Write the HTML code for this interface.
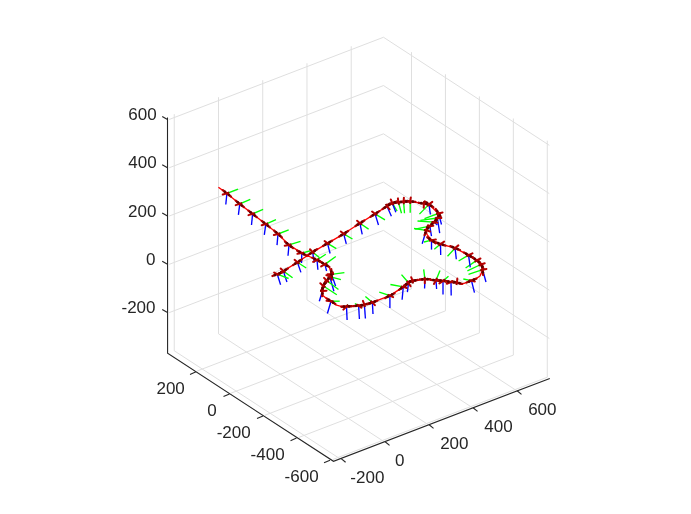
<!DOCTYPE html>
<html><head><meta charset="utf-8"><style>
html,body{margin:0;padding:0;background:#fff;width:691px;height:514px;overflow:hidden}
svg{position:absolute;left:0;top:0}
text{font-family:"Liberation Sans",sans-serif;font-size:17px;fill:#262626}
</style></head><body>
<svg width="691" height="514" viewBox="0 0 691 514">
<rect width="691" height="514" fill="#fff"/>
<g shape-rendering="auto">
<line x1="174.26" y1="350.77" x2="174.26" y2="114.16" stroke="#dfdfdf" stroke-width="1.0"/>
<line x1="218.50" y1="333.80" x2="218.50" y2="97.19" stroke="#dfdfdf" stroke-width="1.0"/>
<line x1="262.74" y1="316.83" x2="262.74" y2="80.21" stroke="#dfdfdf" stroke-width="1.0"/>
<line x1="306.98" y1="299.85" x2="306.98" y2="63.24" stroke="#dfdfdf" stroke-width="1.0"/>
<line x1="351.22" y1="282.88" x2="351.22" y2="46.27" stroke="#dfdfdf" stroke-width="1.0"/>
<line x1="169.10" y1="312.67" x2="383.49" y2="230.42" stroke="#dfdfdf" stroke-width="1.0"/>
<line x1="169.10" y1="264.38" x2="383.49" y2="182.13" stroke="#dfdfdf" stroke-width="1.0"/>
<line x1="169.10" y1="216.09" x2="383.49" y2="133.84" stroke="#dfdfdf" stroke-width="1.0"/>
<line x1="169.10" y1="167.81" x2="383.49" y2="85.55" stroke="#dfdfdf" stroke-width="1.0"/>
<line x1="169.10" y1="119.52" x2="383.49" y2="37.26" stroke="#dfdfdf" stroke-width="1.0"/>
<line x1="547.28" y1="377.23" x2="547.28" y2="140.61" stroke="#dfdfdf" stroke-width="1.0"/>
<line x1="513.34" y1="355.11" x2="513.34" y2="118.49" stroke="#dfdfdf" stroke-width="1.0"/>
<line x1="479.39" y1="332.99" x2="479.39" y2="96.37" stroke="#dfdfdf" stroke-width="1.0"/>
<line x1="445.44" y1="310.87" x2="445.44" y2="74.25" stroke="#dfdfdf" stroke-width="1.0"/>
<line x1="411.50" y1="288.75" x2="411.50" y2="52.13" stroke="#dfdfdf" stroke-width="1.0"/>
<line x1="549.32" y1="338.47" x2="383.49" y2="230.42" stroke="#dfdfdf" stroke-width="1.0"/>
<line x1="549.32" y1="290.19" x2="383.49" y2="182.13" stroke="#dfdfdf" stroke-width="1.0"/>
<line x1="549.32" y1="241.90" x2="383.49" y2="133.84" stroke="#dfdfdf" stroke-width="1.0"/>
<line x1="549.32" y1="193.61" x2="383.49" y2="85.55" stroke="#dfdfdf" stroke-width="1.0"/>
<line x1="549.32" y1="145.32" x2="383.49" y2="37.26" stroke="#dfdfdf" stroke-width="1.0"/>
<line x1="340.09" y1="458.83" x2="174.26" y2="350.77" stroke="#dfdfdf" stroke-width="1.0"/>
<line x1="384.33" y1="441.85" x2="218.50" y2="333.80" stroke="#dfdfdf" stroke-width="1.0"/>
<line x1="428.57" y1="424.88" x2="262.74" y2="316.83" stroke="#dfdfdf" stroke-width="1.0"/>
<line x1="472.81" y1="407.91" x2="306.98" y2="299.85" stroke="#dfdfdf" stroke-width="1.0"/>
<line x1="517.05" y1="390.93" x2="351.22" y2="282.88" stroke="#dfdfdf" stroke-width="1.0"/>
<line x1="332.90" y1="459.48" x2="547.28" y2="377.23" stroke="#dfdfdf" stroke-width="1.0"/>
<line x1="298.95" y1="437.36" x2="513.34" y2="355.11" stroke="#dfdfdf" stroke-width="1.0"/>
<line x1="265.00" y1="415.24" x2="479.39" y2="332.99" stroke="#dfdfdf" stroke-width="1.0"/>
<line x1="231.06" y1="393.12" x2="445.44" y2="310.87" stroke="#dfdfdf" stroke-width="1.0"/>
<line x1="197.11" y1="371.00" x2="411.50" y2="288.75" stroke="#dfdfdf" stroke-width="1.0"/>
</g>
<g>
<polyline points="218.40,187.20 226.90,193.40 239.80,203.90 252.60,213.90 265.80,224.10 278.00,234.00 289.00,244.90 301.80,253.10 317.00,260.00 324.90,264.40 329.30,267.00 331.50,274.30 329.80,276.70 326.90,280.80 323.40,286.00 322.50,291.00 322.80,295.40 327.50,299.30 331.00,301.20 336.50,305.20 341.00,306.40 346.50,306.50 358.60,305.60 364.40,304.60 372.40,302.40 389.90,295.60 403.30,286.90 408.50,282.80 412.60,281.00 424.90,279.30 436.00,280.30 443.00,280.90 451.00,282.00 457.00,282.60 461.30,284.40 471.50,280.60 476.50,278.40 480.00,276.00 481.50,272.50 482.60,269.70 480.80,264.50 476.70,260.40 468.50,255.10 455.10,248.10 440.50,244.00 431.50,240.20 426.90,234.40 426.30,230.30 429.80,226.20 433.90,222.10 437.40,218.00 438.50,213.40 429.00,204.40 423.80,203.60 410.20,201.40 403.60,201.80 398.40,202.30 392.30,203.10 387.00,206.20 375.00,213.90 359.90,223.30 343.70,233.80 327.50,243.40 312.60,252.10 297.40,262.30 283.40,271.10 277.30,274.20 273.80,274.60" fill="none" stroke="#ff0000" stroke-width="1.35" stroke-linejoin="round"/>
<line x1="226.90" y1="193.40" x2="238.00" y2="189.10" stroke="#00ff00" stroke-width="1.35"/>
<line x1="226.90" y1="193.40" x2="225.80" y2="204.50" stroke="#0000ff" stroke-width="1.35"/>
<line x1="239.80" y1="203.90" x2="250.30" y2="199.30" stroke="#00ff00" stroke-width="1.35"/>
<line x1="239.80" y1="203.90" x2="238.40" y2="214.80" stroke="#0000ff" stroke-width="1.35"/>
<line x1="252.60" y1="213.90" x2="263.10" y2="209.40" stroke="#00ff00" stroke-width="1.35"/>
<line x1="252.60" y1="213.90" x2="251.50" y2="225.00" stroke="#0000ff" stroke-width="1.35"/>
<line x1="265.80" y1="224.10" x2="276.00" y2="219.70" stroke="#00ff00" stroke-width="1.35"/>
<line x1="265.80" y1="224.10" x2="264.30" y2="234.90" stroke="#0000ff" stroke-width="1.35"/>
<line x1="278.00" y1="234.00" x2="288.70" y2="229.90" stroke="#00ff00" stroke-width="1.35"/>
<line x1="278.00" y1="234.00" x2="277.00" y2="245.10" stroke="#0000ff" stroke-width="1.35"/>
<line x1="289.00" y1="244.90" x2="300.50" y2="241.30" stroke="#00ff00" stroke-width="1.35"/>
<line x1="289.00" y1="244.90" x2="288.00" y2="255.70" stroke="#0000ff" stroke-width="1.35"/>
<line x1="301.80" y1="253.10" x2="311.40" y2="250.50" stroke="#00ff00" stroke-width="1.35"/>
<line x1="301.80" y1="253.10" x2="301.50" y2="263.00" stroke="#0000ff" stroke-width="1.35"/>
<line x1="317.00" y1="260.00" x2="325.80" y2="254.30" stroke="#00ff00" stroke-width="1.35"/>
<line x1="317.00" y1="260.00" x2="317.90" y2="269.70" stroke="#0000ff" stroke-width="1.35"/>
<line x1="324.90" y1="264.40" x2="335.80" y2="256.50" stroke="#00ff00" stroke-width="1.35"/>
<line x1="324.90" y1="264.40" x2="326.60" y2="271.00" stroke="#0000ff" stroke-width="1.35"/>
<line x1="331.50" y1="274.30" x2="344.40" y2="272.60" stroke="#00ff00" stroke-width="1.35"/>
<line x1="331.50" y1="274.30" x2="335.60" y2="286.00" stroke="#0000ff" stroke-width="1.35"/>
<line x1="329.80" y1="276.70" x2="340.90" y2="279.60" stroke="#00ff00" stroke-width="1.35"/>
<line x1="329.80" y1="276.70" x2="333.90" y2="291.30" stroke="#0000ff" stroke-width="1.35"/>
<line x1="326.90" y1="280.80" x2="338.50" y2="289.50" stroke="#00ff00" stroke-width="1.35"/>
<line x1="323.40" y1="286.00" x2="336.80" y2="294.80" stroke="#00ff00" stroke-width="1.35"/>
<line x1="322.50" y1="291.00" x2="319.30" y2="301.20" stroke="#0000ff" stroke-width="1.35"/>
<line x1="331.00" y1="301.20" x2="339.70" y2="301.20" stroke="#00ff00" stroke-width="1.35"/>
<line x1="331.00" y1="301.20" x2="327.40" y2="313.50" stroke="#0000ff" stroke-width="1.35"/>
<line x1="346.50" y1="306.50" x2="348.00" y2="304.70" stroke="#00ff00" stroke-width="1.35"/>
<line x1="346.50" y1="306.50" x2="347.10" y2="320.00" stroke="#0000ff" stroke-width="1.35"/>
<line x1="358.60" y1="305.60" x2="354.90" y2="303.50" stroke="#00ff00" stroke-width="1.35"/>
<line x1="358.60" y1="305.60" x2="359.40" y2="319.00" stroke="#0000ff" stroke-width="1.35"/>
<line x1="364.40" y1="304.60" x2="365.40" y2="318.50" stroke="#0000ff" stroke-width="1.35"/>
<line x1="372.40" y1="302.40" x2="365.40" y2="296.50" stroke="#00ff00" stroke-width="1.35"/>
<line x1="372.40" y1="302.40" x2="373.00" y2="314.00" stroke="#0000ff" stroke-width="1.35"/>
<line x1="389.90" y1="295.60" x2="379.30" y2="292.10" stroke="#00ff00" stroke-width="1.35"/>
<line x1="389.90" y1="295.60" x2="389.90" y2="307.90" stroke="#0000ff" stroke-width="1.35"/>
<line x1="403.30" y1="286.90" x2="390.40" y2="284.50" stroke="#00ff00" stroke-width="1.35"/>
<line x1="403.30" y1="286.90" x2="402.10" y2="299.70" stroke="#0000ff" stroke-width="1.35"/>
<line x1="408.50" y1="282.80" x2="401.50" y2="274.60" stroke="#00ff00" stroke-width="1.35"/>
<line x1="408.50" y1="282.80" x2="407.40" y2="292.10" stroke="#0000ff" stroke-width="1.35"/>
<line x1="424.90" y1="279.30" x2="423.70" y2="269.30" stroke="#00ff00" stroke-width="1.35"/>
<line x1="424.90" y1="279.30" x2="424.60" y2="288.60" stroke="#0000ff" stroke-width="1.35"/>
<line x1="436.00" y1="280.30" x2="440.00" y2="270.40" stroke="#00ff00" stroke-width="1.35"/>
<line x1="436.00" y1="280.30" x2="436.60" y2="289.00" stroke="#0000ff" stroke-width="1.35"/>
<line x1="443.00" y1="280.90" x2="448.50" y2="276.20" stroke="#00ff00" stroke-width="1.35"/>
<line x1="443.00" y1="280.90" x2="443.00" y2="294.40" stroke="#0000ff" stroke-width="1.35"/>
<line x1="451.00" y1="282.00" x2="453.40" y2="280.80" stroke="#00ff00" stroke-width="1.35"/>
<line x1="451.00" y1="282.00" x2="451.20" y2="295.60" stroke="#0000ff" stroke-width="1.35"/>
<line x1="471.50" y1="280.60" x2="463.30" y2="279.00" stroke="#00ff00" stroke-width="1.35"/>
<line x1="471.50" y1="280.60" x2="474.50" y2="292.70" stroke="#0000ff" stroke-width="1.35"/>
<line x1="482.60" y1="269.70" x2="468.50" y2="274.40" stroke="#00ff00" stroke-width="1.35"/>
<line x1="482.60" y1="269.70" x2="486.00" y2="282.00" stroke="#0000ff" stroke-width="1.35"/>
<line x1="480.80" y1="264.50" x2="467.40" y2="270.90" stroke="#00ff00" stroke-width="1.35"/>
<line x1="476.70" y1="260.40" x2="465.60" y2="268.00" stroke="#00ff00" stroke-width="1.35"/>
<line x1="468.50" y1="255.10" x2="458.60" y2="261.00" stroke="#00ff00" stroke-width="1.35"/>
<line x1="468.50" y1="255.10" x2="470.30" y2="267.40" stroke="#0000ff" stroke-width="1.35"/>
<line x1="455.10" y1="248.10" x2="447.50" y2="256.30" stroke="#00ff00" stroke-width="1.35"/>
<line x1="455.10" y1="248.10" x2="456.30" y2="259.20" stroke="#0000ff" stroke-width="1.35"/>
<line x1="440.50" y1="244.00" x2="434.30" y2="249.20" stroke="#00ff00" stroke-width="1.35"/>
<line x1="440.50" y1="244.00" x2="440.70" y2="255.00" stroke="#0000ff" stroke-width="1.35"/>
<line x1="431.50" y1="240.20" x2="424.00" y2="242.00" stroke="#00ff00" stroke-width="1.35"/>
<line x1="431.50" y1="240.20" x2="431.50" y2="249.60" stroke="#0000ff" stroke-width="1.35"/>
<line x1="426.30" y1="230.30" x2="414.00" y2="228.50" stroke="#00ff00" stroke-width="1.35"/>
<line x1="426.30" y1="230.30" x2="422.20" y2="243.70" stroke="#0000ff" stroke-width="1.35"/>
<line x1="429.80" y1="226.20" x2="415.20" y2="229.10" stroke="#00ff00" stroke-width="1.35"/>
<line x1="429.80" y1="226.20" x2="431.50" y2="236.10" stroke="#0000ff" stroke-width="1.35"/>
<line x1="433.90" y1="222.10" x2="417.50" y2="221.00" stroke="#00ff00" stroke-width="1.35"/>
<line x1="433.90" y1="222.10" x2="437.40" y2="225.00" stroke="#0000ff" stroke-width="1.35"/>
<line x1="437.40" y1="218.00" x2="420.40" y2="220.40" stroke="#00ff00" stroke-width="1.35"/>
<line x1="437.40" y1="218.00" x2="439.70" y2="233.20" stroke="#0000ff" stroke-width="1.35"/>
<line x1="438.50" y1="213.40" x2="424.50" y2="218.60" stroke="#00ff00" stroke-width="1.35"/>
<line x1="438.50" y1="213.40" x2="441.50" y2="224.50" stroke="#0000ff" stroke-width="1.35"/>
<line x1="429.00" y1="204.40" x2="419.40" y2="214.10" stroke="#00ff00" stroke-width="1.35"/>
<line x1="429.00" y1="204.40" x2="430.40" y2="214.50" stroke="#0000ff" stroke-width="1.35"/>
<line x1="410.20" y1="201.40" x2="410.20" y2="212.80" stroke="#00ff00" stroke-width="1.35"/>
<line x1="403.60" y1="201.80" x2="404.50" y2="213.20" stroke="#00ff00" stroke-width="1.35"/>
<line x1="398.40" y1="202.30" x2="401.50" y2="213.20" stroke="#00ff00" stroke-width="1.35"/>
<line x1="392.30" y1="203.10" x2="397.10" y2="211.00" stroke="#00ff00" stroke-width="1.35"/>
<line x1="392.30" y1="203.10" x2="395.80" y2="212.30" stroke="#0000ff" stroke-width="1.35"/>
<line x1="387.00" y1="206.20" x2="391.40" y2="216.30" stroke="#0000ff" stroke-width="1.35"/>
<line x1="375.00" y1="213.90" x2="385.00" y2="219.80" stroke="#00ff00" stroke-width="1.35"/>
<line x1="375.00" y1="213.90" x2="378.50" y2="225.00" stroke="#0000ff" stroke-width="1.35"/>
<line x1="359.90" y1="223.30" x2="368.60" y2="229.10" stroke="#00ff00" stroke-width="1.35"/>
<line x1="359.90" y1="223.30" x2="362.20" y2="234.40" stroke="#0000ff" stroke-width="1.35"/>
<line x1="343.70" y1="233.80" x2="352.50" y2="239.00" stroke="#00ff00" stroke-width="1.35"/>
<line x1="343.70" y1="233.80" x2="346.30" y2="243.80" stroke="#0000ff" stroke-width="1.35"/>
<line x1="327.50" y1="243.40" x2="336.30" y2="248.60" stroke="#00ff00" stroke-width="1.35"/>
<line x1="327.50" y1="243.40" x2="330.10" y2="253.50" stroke="#0000ff" stroke-width="1.35"/>
<line x1="312.60" y1="252.10" x2="319.60" y2="257.80" stroke="#00ff00" stroke-width="1.35"/>
<line x1="312.60" y1="252.10" x2="314.40" y2="262.70" stroke="#0000ff" stroke-width="1.35"/>
<line x1="297.40" y1="262.30" x2="306.20" y2="268.00" stroke="#00ff00" stroke-width="1.35"/>
<line x1="297.40" y1="262.30" x2="300.90" y2="272.40" stroke="#0000ff" stroke-width="1.35"/>
<line x1="283.40" y1="271.10" x2="292.60" y2="277.70" stroke="#00ff00" stroke-width="1.35"/>
<line x1="283.40" y1="271.10" x2="286.90" y2="282.00" stroke="#0000ff" stroke-width="1.35"/>
<line x1="277.30" y1="274.20" x2="288.60" y2="278.50" stroke="#00ff00" stroke-width="1.35"/>
<line x1="277.30" y1="274.20" x2="280.60" y2="284.70" stroke="#0000ff" stroke-width="1.35"/>
<line x1="226.90" y1="193.40" x2="222.70" y2="194.48" stroke="#b80000" stroke-width="2.0" stroke-linecap="round"/>
<line x1="226.90" y1="193.40" x2="229.23" y2="192.50" stroke="#900000" stroke-width="2.0"/>
<line x1="222.80" y1="190.20" x2="231.00" y2="196.60" stroke="#b00000" stroke-width="2.3" stroke-linecap="round"/>
<circle cx="224.85" cy="191.80" r="1.35" fill="#5a0000"/>
<circle cx="228.95" cy="195.00" r="1.35" fill="#5a0000"/>
<line x1="239.80" y1="203.90" x2="235.67" y2="205.13" stroke="#b80000" stroke-width="2.0" stroke-linecap="round"/>
<line x1="239.80" y1="203.90" x2="242.09" y2="202.90" stroke="#900000" stroke-width="2.0"/>
<line x1="235.73" y1="200.66" x2="243.87" y2="207.14" stroke="#b00000" stroke-width="2.3" stroke-linecap="round"/>
<circle cx="237.77" cy="202.28" r="1.35" fill="#5a0000"/>
<circle cx="241.83" cy="205.52" r="1.35" fill="#5a0000"/>
<line x1="252.60" y1="213.90" x2="248.45" y2="215.11" stroke="#b80000" stroke-width="2.0" stroke-linecap="round"/>
<line x1="252.60" y1="213.90" x2="254.90" y2="212.92" stroke="#900000" stroke-width="2.0"/>
<line x1="248.49" y1="210.71" x2="256.71" y2="217.09" stroke="#b00000" stroke-width="2.3" stroke-linecap="round"/>
<circle cx="250.55" cy="212.30" r="1.35" fill="#5a0000"/>
<circle cx="254.65" cy="215.50" r="1.35" fill="#5a0000"/>
<line x1="265.80" y1="224.10" x2="261.66" y2="225.31" stroke="#b80000" stroke-width="2.0" stroke-linecap="round"/>
<line x1="265.80" y1="224.10" x2="268.10" y2="223.11" stroke="#900000" stroke-width="2.0"/>
<line x1="261.72" y1="220.87" x2="269.88" y2="227.33" stroke="#b00000" stroke-width="2.3" stroke-linecap="round"/>
<circle cx="263.76" cy="222.49" r="1.35" fill="#5a0000"/>
<circle cx="267.84" cy="225.71" r="1.35" fill="#5a0000"/>
<line x1="278.00" y1="234.00" x2="273.82" y2="235.03" stroke="#b80000" stroke-width="2.0" stroke-linecap="round"/>
<line x1="278.00" y1="234.00" x2="280.33" y2="233.11" stroke="#900000" stroke-width="2.0"/>
<line x1="274.13" y1="230.53" x2="281.87" y2="237.47" stroke="#b00000" stroke-width="2.3" stroke-linecap="round"/>
<circle cx="276.06" cy="232.26" r="1.35" fill="#5a0000"/>
<circle cx="279.94" cy="235.74" r="1.35" fill="#5a0000"/>
<line x1="289.00" y1="244.90" x2="284.71" y2="245.72" stroke="#b80000" stroke-width="2.0" stroke-linecap="round"/>
<line x1="289.00" y1="244.90" x2="291.39" y2="244.15" stroke="#900000" stroke-width="2.0"/>
<line x1="284.94" y1="241.65" x2="293.06" y2="248.15" stroke="#b00000" stroke-width="2.3" stroke-linecap="round"/>
<circle cx="286.97" cy="243.27" r="1.35" fill="#5a0000"/>
<circle cx="291.03" cy="246.53" r="1.35" fill="#5a0000"/>
<line x1="301.80" y1="253.10" x2="297.41" y2="253.86" stroke="#b80000" stroke-width="2.0" stroke-linecap="round"/>
<line x1="301.80" y1="253.10" x2="304.21" y2="252.45" stroke="#900000" stroke-width="2.0"/>
<line x1="297.22" y1="250.63" x2="306.38" y2="255.57" stroke="#b00000" stroke-width="2.3" stroke-linecap="round"/>
<circle cx="299.51" cy="251.87" r="1.35" fill="#5a0000"/>
<circle cx="304.09" cy="254.33" r="1.35" fill="#5a0000"/>
<line x1="317.00" y1="260.00" x2="313.10" y2="261.91" stroke="#b80000" stroke-width="2.0" stroke-linecap="round"/>
<line x1="317.00" y1="260.00" x2="319.10" y2="258.64" stroke="#900000" stroke-width="2.0"/>
<line x1="312.33" y1="257.72" x2="321.67" y2="262.28" stroke="#b00000" stroke-width="2.3" stroke-linecap="round"/>
<circle cx="314.66" cy="258.86" r="1.35" fill="#5a0000"/>
<circle cx="319.34" cy="261.14" r="1.35" fill="#5a0000"/>
<line x1="324.90" y1="264.40" x2="321.14" y2="266.45" stroke="#b80000" stroke-width="2.0" stroke-linecap="round"/>
<line x1="324.90" y1="264.40" x2="326.92" y2="262.93" stroke="#900000" stroke-width="2.0"/>
<line x1="320.38" y1="261.83" x2="329.42" y2="266.97" stroke="#b00000" stroke-width="2.3" stroke-linecap="round"/>
<circle cx="322.64" cy="263.11" r="1.35" fill="#5a0000"/>
<circle cx="327.16" cy="265.69" r="1.35" fill="#5a0000"/>
<line x1="331.50" y1="274.30" x2="327.50" y2="274.22" stroke="#b80000" stroke-width="2.0" stroke-linecap="round"/>
<line x1="331.50" y1="274.30" x2="333.98" y2="273.97" stroke="#900000" stroke-width="2.0"/>
<line x1="331.23" y1="269.11" x2="331.77" y2="279.49" stroke="#b00000" stroke-width="2.3" stroke-linecap="round"/>
<circle cx="331.37" cy="271.70" r="1.35" fill="#5a0000"/>
<circle cx="331.63" cy="276.90" r="1.35" fill="#5a0000"/>
<line x1="329.80" y1="276.70" x2="326.28" y2="275.20" stroke="#b80000" stroke-width="2.0" stroke-linecap="round"/>
<line x1="329.80" y1="276.70" x2="332.22" y2="277.33" stroke="#900000" stroke-width="2.0"/>
<line x1="332.80" y1="272.46" x2="326.80" y2="280.94" stroke="#b00000" stroke-width="2.3" stroke-linecap="round"/>
<circle cx="331.30" cy="274.58" r="1.35" fill="#5a0000"/>
<circle cx="328.30" cy="278.82" r="1.35" fill="#5a0000"/>
<line x1="326.90" y1="280.80" x2="324.04" y2="277.91" stroke="#b80000" stroke-width="2.0" stroke-linecap="round"/>
<line x1="326.90" y1="280.80" x2="328.90" y2="282.30" stroke="#900000" stroke-width="2.0"/>
<line x1="329.85" y1="276.52" x2="323.95" y2="285.08" stroke="#b00000" stroke-width="2.3" stroke-linecap="round"/>
<circle cx="328.37" cy="278.66" r="1.35" fill="#5a0000"/>
<circle cx="325.43" cy="282.94" r="1.35" fill="#5a0000"/>
<line x1="323.40" y1="286.00" x2="320.29" y2="283.25" stroke="#b80000" stroke-width="2.0" stroke-linecap="round"/>
<line x1="323.40" y1="286.00" x2="325.49" y2="287.37" stroke="#900000" stroke-width="2.0"/>
<line x1="325.46" y1="281.23" x2="321.34" y2="290.77" stroke="#b00000" stroke-width="2.3" stroke-linecap="round"/>
<circle cx="324.43" cy="283.61" r="1.35" fill="#5a0000"/>
<circle cx="322.37" cy="288.39" r="1.35" fill="#5a0000"/>
<line x1="322.50" y1="291.00" x2="326.53" y2="290.66" stroke="#b80000" stroke-width="2.0" stroke-linecap="round"/>
<line x1="322.50" y1="291.00" x2="320.01" y2="290.84" stroke="#900000" stroke-width="2.0"/>
<line x1="322.83" y1="285.81" x2="322.17" y2="296.19" stroke="#b00000" stroke-width="2.3" stroke-linecap="round"/>
<circle cx="322.67" cy="288.41" r="1.35" fill="#5a0000"/>
<circle cx="322.33" cy="293.59" r="1.35" fill="#5a0000"/>
<line x1="331.00" y1="301.20" x2="326.50" y2="300.87" stroke="#b80000" stroke-width="2.0" stroke-linecap="round"/>
<line x1="331.00" y1="301.20" x2="333.50" y2="301.20" stroke="#900000" stroke-width="2.0"/>
<line x1="326.65" y1="298.35" x2="335.35" y2="304.05" stroke="#b00000" stroke-width="2.3" stroke-linecap="round"/>
<circle cx="328.83" cy="299.77" r="1.35" fill="#5a0000"/>
<circle cx="333.17" cy="302.63" r="1.35" fill="#5a0000"/>
<line x1="346.50" y1="306.50" x2="343.34" y2="309.60" stroke="#b80000" stroke-width="2.0" stroke-linecap="round"/>
<line x1="346.50" y1="306.50" x2="348.10" y2="304.58" stroke="#900000" stroke-width="2.0"/>
<line x1="341.31" y1="306.74" x2="351.69" y2="306.26" stroke="#b00000" stroke-width="2.3" stroke-linecap="round"/>
<circle cx="343.90" cy="306.62" r="1.35" fill="#5a0000"/>
<circle cx="349.10" cy="306.38" r="1.35" fill="#5a0000"/>
<line x1="358.60" y1="305.60" x2="361.48" y2="307.64" stroke="#b80000" stroke-width="2.0" stroke-linecap="round"/>
<line x1="358.60" y1="305.60" x2="356.43" y2="304.37" stroke="#900000" stroke-width="2.0"/>
<line x1="353.43" y1="306.15" x2="363.77" y2="305.05" stroke="#b00000" stroke-width="2.3" stroke-linecap="round"/>
<circle cx="356.01" cy="305.87" r="1.35" fill="#5a0000"/>
<circle cx="361.19" cy="305.33" r="1.35" fill="#5a0000"/>
<line x1="364.40" y1="304.60" x2="362.91" y2="300.84" stroke="#b80000" stroke-width="2.0" stroke-linecap="round"/>
<line x1="364.40" y1="304.60" x2="364.96" y2="307.04" stroke="#900000" stroke-width="2.0"/>
<line x1="359.33" y1="305.77" x2="369.47" y2="303.43" stroke="#b00000" stroke-width="2.3" stroke-linecap="round"/>
<circle cx="361.87" cy="305.19" r="1.35" fill="#5a0000"/>
<circle cx="366.93" cy="304.01" r="1.35" fill="#5a0000"/>
<line x1="372.40" y1="302.40" x2="374.89" y2="305.18" stroke="#b80000" stroke-width="2.0" stroke-linecap="round"/>
<line x1="372.40" y1="302.40" x2="370.49" y2="300.79" stroke="#900000" stroke-width="2.0"/>
<line x1="367.50" y1="304.13" x2="377.30" y2="300.67" stroke="#b00000" stroke-width="2.3" stroke-linecap="round"/>
<circle cx="369.95" cy="303.27" r="1.35" fill="#5a0000"/>
<circle cx="374.85" cy="301.53" r="1.35" fill="#5a0000"/>
<line x1="389.90" y1="295.60" x2="393.16" y2="297.12" stroke="#b80000" stroke-width="2.0" stroke-linecap="round"/>
<line x1="389.90" y1="295.60" x2="387.53" y2="294.82" stroke="#900000" stroke-width="2.0"/>
<line x1="385.25" y1="297.93" x2="394.55" y2="293.27" stroke="#b00000" stroke-width="2.3" stroke-linecap="round"/>
<circle cx="387.58" cy="296.77" r="1.35" fill="#5a0000"/>
<circle cx="392.22" cy="294.43" r="1.35" fill="#5a0000"/>
<line x1="403.30" y1="286.90" x2="406.74" y2="287.97" stroke="#b80000" stroke-width="2.0" stroke-linecap="round"/>
<line x1="403.30" y1="286.90" x2="400.84" y2="286.44" stroke="#900000" stroke-width="2.0"/>
<line x1="399.02" y1="289.85" x2="407.58" y2="283.95" stroke="#b00000" stroke-width="2.3" stroke-linecap="round"/>
<circle cx="401.16" cy="288.37" r="1.35" fill="#5a0000"/>
<circle cx="405.44" cy="285.43" r="1.35" fill="#5a0000"/>
<line x1="408.50" y1="282.80" x2="410.59" y2="286.16" stroke="#b80000" stroke-width="2.0" stroke-linecap="round"/>
<line x1="408.50" y1="282.80" x2="406.88" y2="280.90" stroke="#900000" stroke-width="2.0"/>
<line x1="404.11" y1="285.59" x2="412.89" y2="280.01" stroke="#b00000" stroke-width="2.3" stroke-linecap="round"/>
<circle cx="406.30" cy="284.19" r="1.35" fill="#5a0000"/>
<circle cx="410.70" cy="281.41" r="1.35" fill="#5a0000"/>
<line x1="412.60" y1="281.00" x2="411.18" y2="277.21" stroke="#b80000" stroke-width="2.0" stroke-linecap="round"/>
<line x1="412.60" y1="281.00" x2="413.12" y2="283.44" stroke="#900000" stroke-width="2.0"/>
<line x1="407.51" y1="282.09" x2="417.69" y2="279.91" stroke="#b00000" stroke-width="2.3" stroke-linecap="round"/>
<circle cx="410.06" cy="281.54" r="1.35" fill="#5a0000"/>
<circle cx="415.14" cy="280.46" r="1.35" fill="#5a0000"/>
<line x1="424.90" y1="279.30" x2="424.78" y2="283.29" stroke="#b80000" stroke-width="2.0" stroke-linecap="round"/>
<line x1="424.90" y1="279.30" x2="424.60" y2="276.82" stroke="#900000" stroke-width="2.0"/>
<line x1="419.70" y1="279.46" x2="430.10" y2="279.14" stroke="#b00000" stroke-width="2.3" stroke-linecap="round"/>
<circle cx="422.30" cy="279.38" r="1.35" fill="#5a0000"/>
<circle cx="427.50" cy="279.22" r="1.35" fill="#5a0000"/>
<line x1="436.00" y1="280.30" x2="433.90" y2="283.96" stroke="#b80000" stroke-width="2.0" stroke-linecap="round"/>
<line x1="436.00" y1="280.30" x2="436.94" y2="277.98" stroke="#900000" stroke-width="2.0"/>
<line x1="430.82" y1="279.84" x2="441.18" y2="280.76" stroke="#b00000" stroke-width="2.3" stroke-linecap="round"/>
<circle cx="433.41" cy="280.07" r="1.35" fill="#5a0000"/>
<circle cx="438.59" cy="280.53" r="1.35" fill="#5a0000"/>
<line x1="443.00" y1="280.90" x2="439.36" y2="283.43" stroke="#b80000" stroke-width="2.0" stroke-linecap="round"/>
<line x1="443.00" y1="280.90" x2="444.90" y2="279.28" stroke="#900000" stroke-width="2.0"/>
<line x1="437.83" y1="280.31" x2="448.17" y2="281.49" stroke="#b00000" stroke-width="2.3" stroke-linecap="round"/>
<circle cx="440.42" cy="280.61" r="1.35" fill="#5a0000"/>
<circle cx="445.58" cy="281.19" r="1.35" fill="#5a0000"/>
<line x1="451.00" y1="282.00" x2="446.83" y2="283.72" stroke="#b80000" stroke-width="2.0" stroke-linecap="round"/>
<line x1="451.00" y1="282.00" x2="453.24" y2="280.88" stroke="#900000" stroke-width="2.0"/>
<line x1="445.84" y1="281.37" x2="456.16" y2="282.63" stroke="#b00000" stroke-width="2.3" stroke-linecap="round"/>
<circle cx="448.42" cy="281.69" r="1.35" fill="#5a0000"/>
<circle cx="453.58" cy="282.31" r="1.35" fill="#5a0000"/>
<line x1="457.00" y1="282.60" x2="457.32" y2="278.57" stroke="#b80000" stroke-width="2.0" stroke-linecap="round"/>
<line x1="457.00" y1="282.60" x2="456.43" y2="285.03" stroke="#900000" stroke-width="2.0"/>
<line x1="451.94" y1="281.42" x2="462.06" y2="283.78" stroke="#b00000" stroke-width="2.3" stroke-linecap="round"/>
<circle cx="454.47" cy="282.01" r="1.35" fill="#5a0000"/>
<circle cx="459.53" cy="283.19" r="1.35" fill="#5a0000"/>
<line x1="471.50" y1="280.60" x2="474.87" y2="281.59" stroke="#b80000" stroke-width="2.0" stroke-linecap="round"/>
<line x1="471.50" y1="280.60" x2="469.05" y2="280.12" stroke="#900000" stroke-width="2.0"/>
<line x1="466.66" y1="282.51" x2="476.34" y2="278.69" stroke="#b00000" stroke-width="2.3" stroke-linecap="round"/>
<circle cx="469.08" cy="281.55" r="1.35" fill="#5a0000"/>
<circle cx="473.92" cy="279.65" r="1.35" fill="#5a0000"/>
<line x1="482.60" y1="269.70" x2="486.45" y2="269.03" stroke="#b80000" stroke-width="2.0" stroke-linecap="round"/>
<line x1="482.60" y1="269.70" x2="480.23" y2="270.49" stroke="#900000" stroke-width="2.0"/>
<line x1="483.05" y1="274.88" x2="482.15" y2="264.52" stroke="#b00000" stroke-width="2.3" stroke-linecap="round"/>
<circle cx="482.83" cy="272.29" r="1.35" fill="#5a0000"/>
<circle cx="482.37" cy="267.11" r="1.35" fill="#5a0000"/>
<line x1="480.80" y1="264.50" x2="484.73" y2="263.28" stroke="#b80000" stroke-width="2.0" stroke-linecap="round"/>
<line x1="480.80" y1="264.50" x2="478.54" y2="265.58" stroke="#900000" stroke-width="2.0"/>
<line x1="483.59" y1="268.89" x2="478.01" y2="260.11" stroke="#b00000" stroke-width="2.3" stroke-linecap="round"/>
<circle cx="482.19" cy="266.70" r="1.35" fill="#5a0000"/>
<circle cx="479.41" cy="262.30" r="1.35" fill="#5a0000"/>
<line x1="476.70" y1="260.40" x2="480.48" y2="258.50" stroke="#b80000" stroke-width="2.0" stroke-linecap="round"/>
<line x1="476.70" y1="260.40" x2="474.64" y2="261.81" stroke="#900000" stroke-width="2.0"/>
<line x1="480.83" y1="263.56" x2="472.57" y2="257.24" stroke="#b00000" stroke-width="2.3" stroke-linecap="round"/>
<circle cx="478.77" cy="261.98" r="1.35" fill="#5a0000"/>
<circle cx="474.63" cy="258.82" r="1.35" fill="#5a0000"/>
<line x1="468.50" y1="255.10" x2="472.46" y2="253.35" stroke="#b80000" stroke-width="2.0" stroke-linecap="round"/>
<line x1="468.50" y1="255.10" x2="466.35" y2="256.38" stroke="#900000" stroke-width="2.0"/>
<line x1="473.02" y1="257.67" x2="463.98" y2="252.53" stroke="#b00000" stroke-width="2.3" stroke-linecap="round"/>
<circle cx="470.76" cy="256.39" r="1.35" fill="#5a0000"/>
<circle cx="466.24" cy="253.81" r="1.35" fill="#5a0000"/>
<line x1="455.10" y1="248.10" x2="458.38" y2="245.39" stroke="#b80000" stroke-width="2.0" stroke-linecap="round"/>
<line x1="455.10" y1="248.10" x2="453.40" y2="249.93" stroke="#900000" stroke-width="2.0"/>
<line x1="459.93" y1="250.02" x2="450.27" y2="246.18" stroke="#b00000" stroke-width="2.3" stroke-linecap="round"/>
<circle cx="457.52" cy="249.06" r="1.35" fill="#5a0000"/>
<circle cx="452.68" cy="247.14" r="1.35" fill="#5a0000"/>
<line x1="440.50" y1="244.00" x2="444.13" y2="241.62" stroke="#b80000" stroke-width="2.0" stroke-linecap="round"/>
<line x1="440.50" y1="244.00" x2="438.58" y2="245.61" stroke="#900000" stroke-width="2.0"/>
<line x1="445.43" y1="245.65" x2="435.57" y2="242.35" stroke="#b00000" stroke-width="2.3" stroke-linecap="round"/>
<circle cx="442.97" cy="244.83" r="1.35" fill="#5a0000"/>
<circle cx="438.03" cy="243.17" r="1.35" fill="#5a0000"/>
<line x1="431.50" y1="240.20" x2="435.88" y2="239.61" stroke="#b80000" stroke-width="2.0" stroke-linecap="round"/>
<line x1="431.50" y1="240.20" x2="429.07" y2="240.78" stroke="#900000" stroke-width="2.0"/>
<line x1="435.75" y1="243.20" x2="427.25" y2="237.20" stroke="#b00000" stroke-width="2.3" stroke-linecap="round"/>
<circle cx="433.62" cy="241.70" r="1.35" fill="#5a0000"/>
<circle cx="429.38" cy="238.70" r="1.35" fill="#5a0000"/>
<line x1="426.30" y1="230.30" x2="430.06" y2="231.44" stroke="#b80000" stroke-width="2.0" stroke-linecap="round"/>
<line x1="426.30" y1="230.30" x2="423.83" y2="229.94" stroke="#900000" stroke-width="2.0"/>
<line x1="424.57" y1="235.20" x2="428.03" y2="225.40" stroke="#b00000" stroke-width="2.3" stroke-linecap="round"/>
<circle cx="425.43" cy="232.75" r="1.35" fill="#5a0000"/>
<circle cx="427.17" cy="227.85" r="1.35" fill="#5a0000"/>
<line x1="429.80" y1="226.20" x2="433.32" y2="225.86" stroke="#b80000" stroke-width="2.0" stroke-linecap="round"/>
<line x1="429.80" y1="226.20" x2="427.35" y2="226.69" stroke="#900000" stroke-width="2.0"/>
<line x1="426.27" y1="230.01" x2="433.33" y2="222.39" stroke="#b00000" stroke-width="2.3" stroke-linecap="round"/>
<circle cx="428.03" cy="228.11" r="1.35" fill="#5a0000"/>
<circle cx="431.57" cy="224.29" r="1.35" fill="#5a0000"/>
<line x1="433.90" y1="222.10" x2="437.48" y2="222.81" stroke="#b80000" stroke-width="2.0" stroke-linecap="round"/>
<line x1="433.90" y1="222.10" x2="431.41" y2="221.93" stroke="#900000" stroke-width="2.0"/>
<line x1="430.37" y1="225.91" x2="437.43" y2="218.29" stroke="#b00000" stroke-width="2.3" stroke-linecap="round"/>
<circle cx="432.13" cy="224.01" r="1.35" fill="#5a0000"/>
<circle cx="435.67" cy="220.19" r="1.35" fill="#5a0000"/>
<line x1="437.40" y1="218.00" x2="441.08" y2="217.97" stroke="#b80000" stroke-width="2.0" stroke-linecap="round"/>
<line x1="437.40" y1="218.00" x2="434.92" y2="218.35" stroke="#900000" stroke-width="2.0"/>
<line x1="434.97" y1="222.60" x2="439.83" y2="213.40" stroke="#b00000" stroke-width="2.3" stroke-linecap="round"/>
<circle cx="436.18" cy="220.30" r="1.35" fill="#5a0000"/>
<circle cx="438.62" cy="215.70" r="1.35" fill="#5a0000"/>
<line x1="438.50" y1="213.40" x2="442.56" y2="212.52" stroke="#b80000" stroke-width="2.0" stroke-linecap="round"/>
<line x1="438.50" y1="213.40" x2="436.16" y2="214.27" stroke="#900000" stroke-width="2.0"/>
<line x1="441.23" y1="217.82" x2="435.77" y2="208.98" stroke="#b00000" stroke-width="2.3" stroke-linecap="round"/>
<circle cx="439.87" cy="215.61" r="1.35" fill="#5a0000"/>
<circle cx="437.13" cy="211.19" r="1.35" fill="#5a0000"/>
<line x1="429.00" y1="204.40" x2="432.31" y2="201.89" stroke="#b80000" stroke-width="2.0" stroke-linecap="round"/>
<line x1="429.00" y1="204.40" x2="427.24" y2="206.18" stroke="#900000" stroke-width="2.0"/>
<line x1="433.33" y1="207.28" x2="424.67" y2="201.52" stroke="#b00000" stroke-width="2.3" stroke-linecap="round"/>
<circle cx="431.16" cy="205.84" r="1.35" fill="#5a0000"/>
<circle cx="426.84" cy="202.96" r="1.35" fill="#5a0000"/>
<line x1="423.80" y1="203.60" x2="423.76" y2="207.64" stroke="#b80000" stroke-width="2.0" stroke-linecap="round"/>
<line x1="423.80" y1="203.60" x2="424.19" y2="201.13" stroke="#900000" stroke-width="2.0"/>
<line x1="428.94" y1="204.42" x2="418.66" y2="202.78" stroke="#b00000" stroke-width="2.3" stroke-linecap="round"/>
<circle cx="426.37" cy="204.01" r="1.35" fill="#5a0000"/>
<circle cx="421.23" cy="203.19" r="1.35" fill="#5a0000"/>
<line x1="410.20" y1="201.40" x2="410.80" y2="197.45" stroke="#b80000" stroke-width="2.0" stroke-linecap="round"/>
<line x1="410.20" y1="201.40" x2="410.20" y2="203.90" stroke="#900000" stroke-width="2.0"/>
<line x1="415.38" y1="201.86" x2="405.02" y2="200.94" stroke="#b00000" stroke-width="2.3" stroke-linecap="round"/>
<circle cx="412.79" cy="201.63" r="1.35" fill="#5a0000"/>
<circle cx="407.61" cy="201.17" r="1.35" fill="#5a0000"/>
<line x1="403.60" y1="201.80" x2="403.88" y2="197.77" stroke="#b80000" stroke-width="2.0" stroke-linecap="round"/>
<line x1="403.60" y1="201.80" x2="403.80" y2="204.29" stroke="#900000" stroke-width="2.0"/>
<line x1="408.78" y1="201.40" x2="398.42" y2="202.20" stroke="#b00000" stroke-width="2.3" stroke-linecap="round"/>
<circle cx="406.19" cy="201.60" r="1.35" fill="#5a0000"/>
<circle cx="401.01" cy="202.00" r="1.35" fill="#5a0000"/>
<line x1="398.40" y1="202.30" x2="397.90" y2="198.38" stroke="#b80000" stroke-width="2.0" stroke-linecap="round"/>
<line x1="398.40" y1="202.30" x2="399.08" y2="204.70" stroke="#900000" stroke-width="2.0"/>
<line x1="403.57" y1="201.71" x2="393.23" y2="202.89" stroke="#b00000" stroke-width="2.3" stroke-linecap="round"/>
<circle cx="400.98" cy="202.00" r="1.35" fill="#5a0000"/>
<circle cx="395.82" cy="202.60" r="1.35" fill="#5a0000"/>
<line x1="392.30" y1="203.10" x2="390.79" y2="199.49" stroke="#b80000" stroke-width="2.0" stroke-linecap="round"/>
<line x1="392.30" y1="203.10" x2="393.60" y2="205.24" stroke="#900000" stroke-width="2.0"/>
<line x1="397.22" y1="201.42" x2="387.38" y2="204.78" stroke="#b00000" stroke-width="2.3" stroke-linecap="round"/>
<circle cx="394.76" cy="202.26" r="1.35" fill="#5a0000"/>
<circle cx="389.84" cy="203.94" r="1.35" fill="#5a0000"/>
<line x1="387.00" y1="206.20" x2="389.63" y2="209.28" stroke="#b80000" stroke-width="2.0" stroke-linecap="round"/>
<line x1="387.00" y1="206.20" x2="385.68" y2="204.08" stroke="#900000" stroke-width="2.0"/>
<line x1="391.41" y1="203.45" x2="382.59" y2="208.95" stroke="#b00000" stroke-width="2.3" stroke-linecap="round"/>
<circle cx="389.21" cy="204.82" r="1.35" fill="#5a0000"/>
<circle cx="384.79" cy="207.58" r="1.35" fill="#5a0000"/>
<line x1="375.00" y1="213.90" x2="372.06" y2="211.55" stroke="#b80000" stroke-width="2.0" stroke-linecap="round"/>
<line x1="375.00" y1="213.90" x2="377.15" y2="215.17" stroke="#900000" stroke-width="2.0"/>
<line x1="379.40" y1="211.13" x2="370.60" y2="216.67" stroke="#b00000" stroke-width="2.3" stroke-linecap="round"/>
<circle cx="377.20" cy="212.51" r="1.35" fill="#5a0000"/>
<circle cx="372.80" cy="215.29" r="1.35" fill="#5a0000"/>
<line x1="359.90" y1="223.30" x2="357.08" y2="220.76" stroke="#b80000" stroke-width="2.0" stroke-linecap="round"/>
<line x1="359.90" y1="223.30" x2="361.98" y2="224.69" stroke="#900000" stroke-width="2.0"/>
<line x1="364.29" y1="220.51" x2="355.51" y2="226.09" stroke="#b00000" stroke-width="2.3" stroke-linecap="round"/>
<circle cx="362.09" cy="221.91" r="1.35" fill="#5a0000"/>
<circle cx="357.71" cy="224.69" r="1.35" fill="#5a0000"/>
<line x1="343.70" y1="233.80" x2="340.77" y2="231.45" stroke="#b80000" stroke-width="2.0" stroke-linecap="round"/>
<line x1="343.70" y1="233.80" x2="345.85" y2="235.07" stroke="#900000" stroke-width="2.0"/>
<line x1="348.12" y1="231.06" x2="339.28" y2="236.54" stroke="#b00000" stroke-width="2.3" stroke-linecap="round"/>
<circle cx="345.91" cy="232.43" r="1.35" fill="#5a0000"/>
<circle cx="341.49" cy="235.17" r="1.35" fill="#5a0000"/>
<line x1="327.50" y1="243.40" x2="324.57" y2="241.06" stroke="#b80000" stroke-width="2.0" stroke-linecap="round"/>
<line x1="327.50" y1="243.40" x2="329.65" y2="244.67" stroke="#900000" stroke-width="2.0"/>
<line x1="331.98" y1="240.76" x2="323.02" y2="246.04" stroke="#b00000" stroke-width="2.3" stroke-linecap="round"/>
<circle cx="329.74" cy="242.08" r="1.35" fill="#5a0000"/>
<circle cx="325.26" cy="244.72" r="1.35" fill="#5a0000"/>
<line x1="312.60" y1="252.10" x2="310.01" y2="249.26" stroke="#b80000" stroke-width="2.0" stroke-linecap="round"/>
<line x1="312.60" y1="252.10" x2="314.54" y2="253.68" stroke="#900000" stroke-width="2.0"/>
<line x1="317.00" y1="249.33" x2="308.20" y2="254.87" stroke="#b00000" stroke-width="2.3" stroke-linecap="round"/>
<circle cx="314.80" cy="250.72" r="1.35" fill="#5a0000"/>
<circle cx="310.40" cy="253.48" r="1.35" fill="#5a0000"/>
<line x1="297.40" y1="262.30" x2="294.55" y2="259.80" stroke="#b80000" stroke-width="2.0" stroke-linecap="round"/>
<line x1="297.40" y1="262.30" x2="299.50" y2="263.66" stroke="#900000" stroke-width="2.0"/>
<line x1="301.76" y1="259.46" x2="293.04" y2="265.14" stroke="#b00000" stroke-width="2.3" stroke-linecap="round"/>
<circle cx="299.58" cy="260.88" r="1.35" fill="#5a0000"/>
<circle cx="295.22" cy="263.72" r="1.35" fill="#5a0000"/>
<line x1="283.40" y1="271.10" x2="280.67" y2="268.46" stroke="#b80000" stroke-width="2.0" stroke-linecap="round"/>
<line x1="283.40" y1="271.10" x2="285.43" y2="272.56" stroke="#900000" stroke-width="2.0"/>
<line x1="287.87" y1="268.45" x2="278.93" y2="273.75" stroke="#b00000" stroke-width="2.3" stroke-linecap="round"/>
<circle cx="285.64" cy="269.78" r="1.35" fill="#5a0000"/>
<circle cx="281.16" cy="272.42" r="1.35" fill="#5a0000"/>
<line x1="277.30" y1="274.20" x2="274.13" y2="272.57" stroke="#b80000" stroke-width="2.0" stroke-linecap="round"/>
<line x1="277.30" y1="274.20" x2="279.64" y2="275.09" stroke="#900000" stroke-width="2.0"/>
<line x1="282.19" y1="272.42" x2="272.41" y2="275.98" stroke="#b00000" stroke-width="2.3" stroke-linecap="round"/>
<circle cx="279.74" cy="273.31" r="1.35" fill="#5a0000"/>
<circle cx="274.86" cy="275.09" r="1.35" fill="#5a0000"/>
</g>
<g>
<polyline points="167.50,117.40 167.60,353.30 333.50,461.30 549.80,378.40" fill="none" stroke="#262626" stroke-width="1.1"/>
<line x1="167.50" y1="312.60" x2="162.20" y2="309.60" stroke="#262626" stroke-width="1.1"/>
<line x1="167.50" y1="264.33" x2="162.20" y2="261.33" stroke="#262626" stroke-width="1.1"/>
<line x1="167.50" y1="216.05" x2="162.20" y2="213.05" stroke="#262626" stroke-width="1.1"/>
<line x1="167.50" y1="167.78" x2="162.20" y2="164.78" stroke="#262626" stroke-width="1.1"/>
<line x1="167.50" y1="119.50" x2="162.20" y2="116.50" stroke="#262626" stroke-width="1.1"/>
<line x1="330.00" y1="460.20" x2="324.00" y2="462.80" stroke="#262626" stroke-width="1.1"/>
<line x1="296.50" y1="438.10" x2="290.50" y2="440.70" stroke="#262626" stroke-width="1.1"/>
<line x1="263.00" y1="416.00" x2="257.00" y2="418.60" stroke="#262626" stroke-width="1.1"/>
<line x1="229.50" y1="393.90" x2="223.50" y2="396.50" stroke="#262626" stroke-width="1.1"/>
<line x1="196.00" y1="371.80" x2="190.00" y2="374.40" stroke="#262626" stroke-width="1.1"/>
<line x1="341.18" y1="458.68" x2="345.58" y2="462.28" stroke="#262626" stroke-width="1.1"/>
<line x1="385.16" y1="441.71" x2="389.56" y2="445.31" stroke="#262626" stroke-width="1.1"/>
<line x1="429.14" y1="424.74" x2="433.54" y2="428.34" stroke="#262626" stroke-width="1.1"/>
<line x1="473.12" y1="407.77" x2="477.52" y2="411.37" stroke="#262626" stroke-width="1.1"/>
<line x1="517.10" y1="390.80" x2="521.50" y2="394.40" stroke="#262626" stroke-width="1.1"/>
</g>
</svg>
<svg width="691" height="514" viewBox="0 0 691 514" style="filter:grayscale(1)">
<text x="156.60" y="119.90" text-anchor="end">600</text>
<text x="156.70" y="168.20" text-anchor="end">400</text>
<text x="156.40" y="217.20" text-anchor="end">200</text>
<text x="155.50" y="265.00" text-anchor="end">0</text>
<text x="155.50" y="313.20" text-anchor="end">-200</text>
<text x="184.80" y="394.20" text-anchor="end">200</text>
<text x="216.80" y="416.00" text-anchor="end">0</text>
<text x="250.70" y="438.10" text-anchor="end">-200</text>
<text x="284.60" y="460.20" text-anchor="end">-400</text>
<text x="318.60" y="481.80" text-anchor="end">-600</text>
<text x="384.40" y="482.90" text-anchor="end">-200</text>
<text x="404.50" y="466.00" text-anchor="end">0</text>
<text x="468.50" y="448.90" text-anchor="end">200</text>
<text x="512.60" y="431.70" text-anchor="end">400</text>
<text x="556.50" y="415.10" text-anchor="end">600</text>
</svg></body></html>
